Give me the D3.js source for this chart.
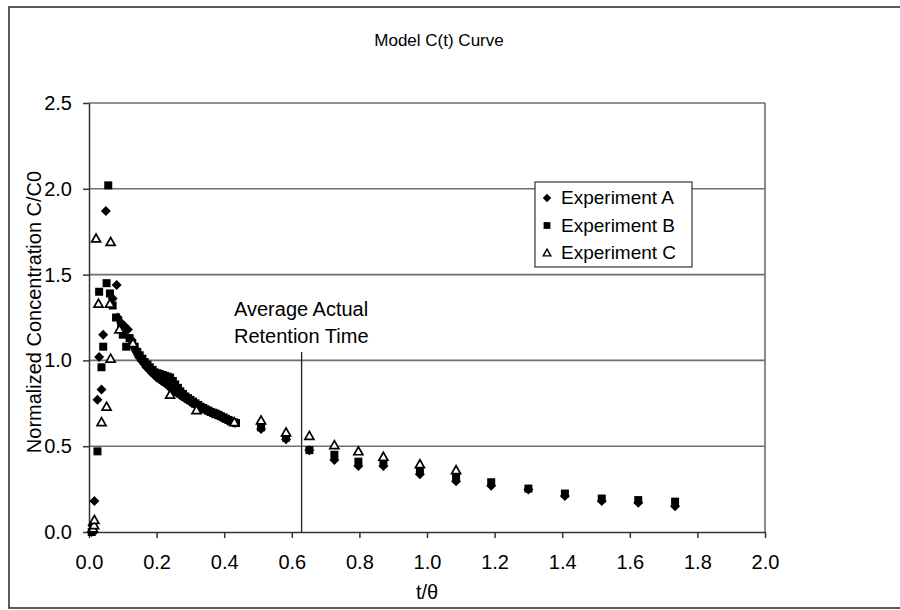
<!DOCTYPE html>
<html>
<head>
<meta charset="utf-8">
<script src="https://d3js.org/d3.v7.min.js"></script>
<style>
  html, body { margin: 0; background: #fff; overflow: hidden; }
  svg { display: block; }
  text { font-family: "Liberation Sans", Arial, sans-serif; fill: #000; }
</style>
</head>
<body>
<div id="chart"></div>
<script>
// [t/theta, C/C0]
const expA = [
  [0.008, 0.0], [0.010, 0.04], [0.016, 0.18], [0.025, 0.77], [0.037, 0.83], [0.030, 1.02],
  [0.042, 1.15], [0.050, 1.87], [0.082, 1.44], [0.070, 1.36], [0.085, 1.25], [0.095, 1.22],
  [0.105, 1.20], [0.115, 1.18], [0.125, 1.12], [0.133, 1.08], [0.140, 1.05], [0.148, 1.02],
  [0.155, 1.00], [0.163, 0.98], [0.170, 0.96], [0.178, 0.945], [0.185, 0.93], [0.193, 0.915],
  [0.200, 0.90], [0.208, 0.89], [0.215, 0.88], [0.223, 0.87], [0.230, 0.86], [0.238, 0.845],
  [0.245, 0.83], [0.253, 0.82], [0.260, 0.81], [0.268, 0.80], [0.275, 0.79], [0.283, 0.78],
  [0.290, 0.77], [0.298, 0.76], [0.305, 0.75], [0.313, 0.743], [0.320, 0.735], [0.328, 0.728],
  [0.335, 0.72], [0.343, 0.713], [0.350, 0.705], [0.358, 0.698], [0.365, 0.69], [0.373, 0.685],
  [0.380, 0.68], [0.388, 0.673], [0.395, 0.665], [0.403, 0.658], [0.410, 0.65], [0.418, 0.645],
  [0.425, 0.64], [0.432, 0.635],
  [0.509, 0.60], [0.583, 0.54], [0.652, 0.477], [0.726, 0.42], [0.797, 0.384], [0.871, 0.384],
  [0.979, 0.337], [1.086, 0.296], [1.190, 0.27], [1.300, 0.248], [1.408, 0.21], [1.517, 0.18],
  [1.625, 0.17], [1.734, 0.15]
];
const expB = [
  [0.008, 0.0], [0.012, 0.01], [0.025, 0.47], [0.037, 0.96], [0.042, 1.08], [0.030, 1.40],
  [0.052, 1.45], [0.057, 2.02], [0.062, 1.39], [0.070, 1.32], [0.080, 1.25], [0.095, 1.20],
  [0.100, 1.15], [0.110, 1.08], [0.120, 1.13], [0.128, 1.10], [0.135, 1.08], [0.143, 1.05],
  [0.150, 1.03], [0.158, 1.01], [0.165, 0.99], [0.173, 0.975], [0.180, 0.96], [0.188, 0.945],
  [0.195, 0.93], [0.203, 0.925], [0.210, 0.92], [0.218, 0.915], [0.225, 0.91], [0.233, 0.905],
  [0.240, 0.90], [0.248, 0.88], [0.255, 0.86], [0.263, 0.84], [0.270, 0.82], [0.278, 0.805],
  [0.285, 0.79], [0.293, 0.78], [0.300, 0.77], [0.308, 0.76], [0.315, 0.75], [0.323, 0.74],
  [0.330, 0.73], [0.338, 0.723], [0.345, 0.715], [0.353, 0.708], [0.360, 0.70], [0.368, 0.695],
  [0.375, 0.69], [0.383, 0.683], [0.390, 0.675], [0.398, 0.668], [0.405, 0.66], [0.413, 0.653],
  [0.420, 0.645], [0.428, 0.64], [0.435, 0.635],
  [0.509, 0.61], [0.583, 0.55], [0.652, 0.477], [0.726, 0.45], [0.797, 0.41], [0.871, 0.40],
  [0.979, 0.36], [1.086, 0.325], [1.190, 0.29], [1.300, 0.253], [1.408, 0.224], [1.517, 0.195],
  [1.625, 0.186], [1.734, 0.177]
];
const expC = [
  [0.012, 0.02], [0.015, 0.04], [0.016, 0.07], [0.037, 0.64], [0.052, 0.73], [0.064, 1.01],
  [0.028, 1.33], [0.062, 1.33], [0.021, 1.71], [0.064, 1.69], [0.090, 1.18], [0.130, 1.10],
  [0.240, 0.80], [0.318, 0.71], [0.430, 0.64],
  [0.509, 0.65], [0.583, 0.58], [0.652, 0.56], [0.726, 0.506], [0.797, 0.47], [0.871, 0.438],
  [0.979, 0.395], [1.086, 0.36]
];
const xTicks = [0, 0.2, 0.4, 0.6, 0.8, 1.0, 1.2, 1.4, 1.6, 1.8, 2.0];
const yTicks = [0, 0.5, 1.0, 1.5, 2.0, 2.5];
const retentionTime = 0.629;
const seriesNames = ["Experiment A", "Experiment B", "Experiment C"];

const width = 900, height = 610;
const svg = d3.select("#chart").append("svg").attr("width", width).attr("height", height);

const x = d3.scaleLinear().domain([0, 2]).range([89, 765]);
const y = d3.scaleLinear().domain([0, 2.5]).range([532, 103]);

// outer frame (right side runs off the picture)
svg.append("rect").attr("x", 9).attr("y", 7).attr("width", 900).attr("height", 601)
  .attr("fill", "none").attr("stroke", "#333").attr("stroke-width", 1.6);

// gridlines + plot border
svg.append("g").selectAll("line").data(yTicks.filter(d => d > 0)).join("line")
  .attr("x1", x(0)).attr("x2", x(2)).attr("y1", d => y(d)).attr("y2", d => y(d))
  .attr("stroke", "#6e6e6e").attr("stroke-width", 1.6);
svg.append("line").attr("x1", x(2)).attr("x2", x(2)).attr("y1", y(2.5)).attr("y2", y(0))
  .attr("stroke", "#6e6e6e").attr("stroke-width", 1.6);

// axes
const yAxis = svg.append("g").attr("transform", `translate(${x(0)},0)`)
  .call(d3.axisLeft(y).tickValues(yTicks).tickFormat(d3.format(".1f"))
    .tickSize(6).tickSizeOuter(0).tickPadding(11));
const xAxis = svg.append("g").attr("transform", `translate(0,${y(0)})`)
  .call(d3.axisBottom(x).tickValues(xTicks).tickFormat(d3.format(".1f"))
    .tickSize(6).tickSizeOuter(0).tickPadding(17));
[xAxis, yAxis].forEach(g => {
  g.selectAll("path, line").attr("stroke", "#333").attr("stroke-width", 1.5);
  g.selectAll("text").attr("font-size", 20).attr("font-family", null);
});

// retention time marker
svg.append("line").attr("x1", x(retentionTime)).attr("x2", x(retentionTime))
  .attr("y1", 352).attr("y2", y(0)).attr("stroke", "#222").attr("stroke-width", 1.3);
svg.append("text").attr("x", 234).attr("y", 316).attr("font-size", 20).text("Average Actual");
svg.append("text").attr("x", 234).attr("y", 343).attr("font-size", 20).text("Retention Time");

// markers
const diamond = "M0,-5L5,0L0,5L-5,0Z";
const square = "M-4,-4H4V4H-4Z";
const triangle = "M0,-4.5L4.5,3.4H-4.5Z";
const styles = [
  { path: diamond, fill: "#000", stroke: "none" },
  { path: square, fill: "#000", stroke: "none" },
  { path: triangle, fill: "#fff", stroke: "#000" }
];
[expA, expB, expC].forEach((data, i) => {
  svg.append("g").selectAll("path").data(data).join("path")
    .attr("d", styles[i].path)
    .attr("transform", d => `translate(${x(d[0])},${y(d[1])})`)
    .attr("fill", styles[i].fill).attr("stroke", styles[i].stroke).attr("stroke-width", 1.7);
});

// title and axis titles
svg.append("text").attr("x", 439).attr("y", 46).attr("text-anchor", "middle")
  .attr("font-size", 17).text("Model C(t) Curve");
svg.append("text").attr("x", x(1)).attr("y", 599).attr("text-anchor", "middle")
  .attr("font-size", 20).text("t/\u03b8");
svg.append("text").attr("transform", "translate(41,312) rotate(-90)").attr("text-anchor", "middle")
  .attr("font-size", 20).text("Normalized Concentration C/C0");

// legend
const legend = svg.append("g");
legend.append("rect").attr("x", 535).attr("y", 182).attr("width", 157).attr("height", 85)
  .attr("fill", "#fff").attr("stroke", "#333").attr("stroke-width", 1.2);
seriesNames.forEach((name, i) => {
  const cy = 198 + i * 27.5;
  legend.append("path").attr("d", styles[i].path)
    .attr("transform", `translate(547,${cy}) scale(0.85)`)
    .attr("fill", styles[i].fill).attr("stroke", styles[i].stroke).attr("stroke-width", 1.7);
  legend.append("text").attr("x", 561).attr("y", cy + 6).attr("font-size", 19).text(name);
});
</script>
</body>
</html>
